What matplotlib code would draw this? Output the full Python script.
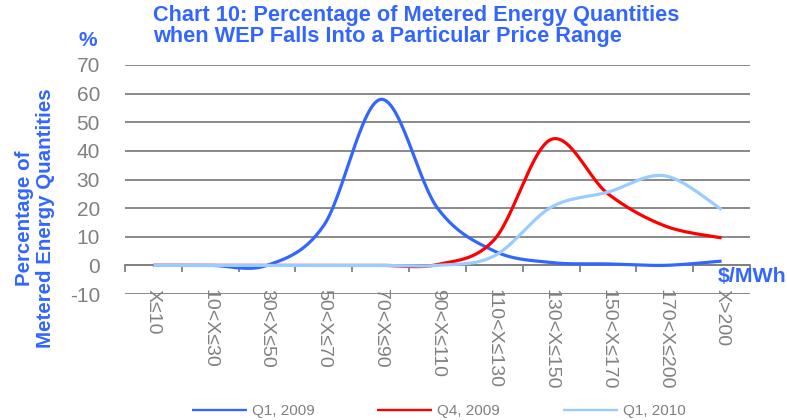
import numpy as np
import matplotlib
matplotlib.use("Agg")
import matplotlib.pyplot as plt

categories = ["X≤10", "10<X≤30", "30<X≤50", "50<X≤70", "70<X≤90", "90<X≤110",
              "110<X≤130", "130<X≤150", "150<X≤170", "170<X≤200", "X>200"]
series_names = ["Q1, 2009", "Q4, 2009", "Q1, 2010"]
q1_2009 = [0, 0, 0, 14, 58, 20, 5, 1, 0.5, 0, 1.5]
q4_2009 = [0, 0, 0, 0, 0, 0.3, 9, 44, 25, 13.8, 9.6]
q1_2010 = [0, 0, 0, 0, 0, 0, 3.3, 20.3, 25.6, 31.3, 19.5]
y_ticks = [-10, 0, 10, 20, 30, 40, 50, 60, 70]

BLUE = "#3366FF"
RED = "#FF0000"
LBLUE = "#99CCFF"
GRAY = "#808080"
FONT = "Liberation Sans"


def smooth(xs, ys, n=30):
    """Excel-style smoothed line: Catmull-Rom Bezier through the points."""
    P = np.column_stack([xs, ys]).astype(float)
    P = np.vstack([P[0], P, P[-1]])
    out = []
    t = np.linspace(0, 1, n)[:, None]
    for i in range(1, len(P) - 2):
        p0, p1, p2, p3 = P[i - 1], P[i], P[i + 1], P[i + 2]
        c1 = p1 + (p2 - p0) / 6
        c2 = p2 - (p3 - p1) / 6
        seg = ((1 - t) ** 3) * p1 + 3 * ((1 - t) ** 2) * t * c1 + 3 * (1 - t) * t ** 2 * c2 + t ** 3 * p2
        out.append(seg if i == 1 else seg[1:])
    out = np.vstack(out)
    return out[:, 0], out[:, 1]


plt.rcParams["font.family"] = [FONT, "DejaVu Sans"]

fig = plt.figure(figsize=(7.87, 4.20), dpi=100)
ax = fig.add_axes([125 / 787, 1 - 294 / 420, (750 - 125) / 787, (294 - 65) / 420])

x = np.arange(len(categories))
for vals, col, name in [(q1_2009, BLUE, series_names[0]),
                        (q4_2009, RED, series_names[1]),
                        (q1_2010, LBLUE, series_names[2])]:
    sx, sy = smooth(x, vals)
    ax.plot(sx, sy, color=col, lw=2.3, label=name, solid_capstyle="butt", zorder=3)

ax.set_xlim(-0.5, len(categories) - 0.5)
ax.set_ylim(-10, 70)
ax.set_yticks(y_ticks)
ax.set_yticklabels([str(v) for v in y_ticks])
ax.yaxis.grid(True, color=GRAY, lw=1.3)
ax.set_axisbelow(True)
for s in ["top", "right", "left"]:
    ax.spines[s].set_visible(False)
ax.spines["bottom"].set_position(("data", 0))
ax.spines["bottom"].set_color(GRAY)
ax.spines["bottom"].set_linewidth(1.3)
ax.tick_params(axis="y", length=0, pad=18, labelsize=15, labelcolor=GRAY)

ax.set_xticks(x)
ax.set_xticklabels(categories, rotation=270, fontsize=14, color=GRAY, va="top", ha="center")
ax.set_xticks(np.arange(len(categories) + 1) - 0.5, minor=True)
ax.tick_params(axis="x", which="major", length=0, pad=17)
ax.tick_params(axis="x", which="minor", length=5, width=1.3, color=GRAY, direction="out")

fig.text(153 / 787, 1 - 5 / 420,
         "Chart 10: Percentage of Metered Energy Quantities\nwhen WEP Falls Into a Particular Price Range",
         ha="left", va="top", fontsize=15.7, fontweight="bold", color=BLUE, linespacing=0.98)
fig.text(88 / 787, 1 - 41 / 420, "%", ha="center", va="center", fontsize=15,
         fontweight="bold", color=BLUE)
fig.text(35 / 787, 1 - 218 / 420, "Percentage of\nMetered Energy Quantities", rotation=90,
         ha="center", va="center", fontsize=14.8, fontweight="bold", color=BLUE,
         linespacing=1.1, multialignment="center")
fig.text(752 / 787, 1 - 276 / 420, "$/MWh", ha="center", va="center", fontsize=15.4,
         fontweight="bold", color=BLUE)

leg = fig.legend(loc="center left", bbox_to_anchor=(192 / 787, 1 - 411 / 420), ncol=3,
                 frameon=False, fontsize=11, handlelength=3.6, handletextpad=0.33,
                 columnspacing=4.1, borderpad=0, borderaxespad=0, labelcolor=GRAY)
for h in leg.get_lines():
    h.set_linewidth(1.7)

fig.savefig("out.png", dpi=100)
